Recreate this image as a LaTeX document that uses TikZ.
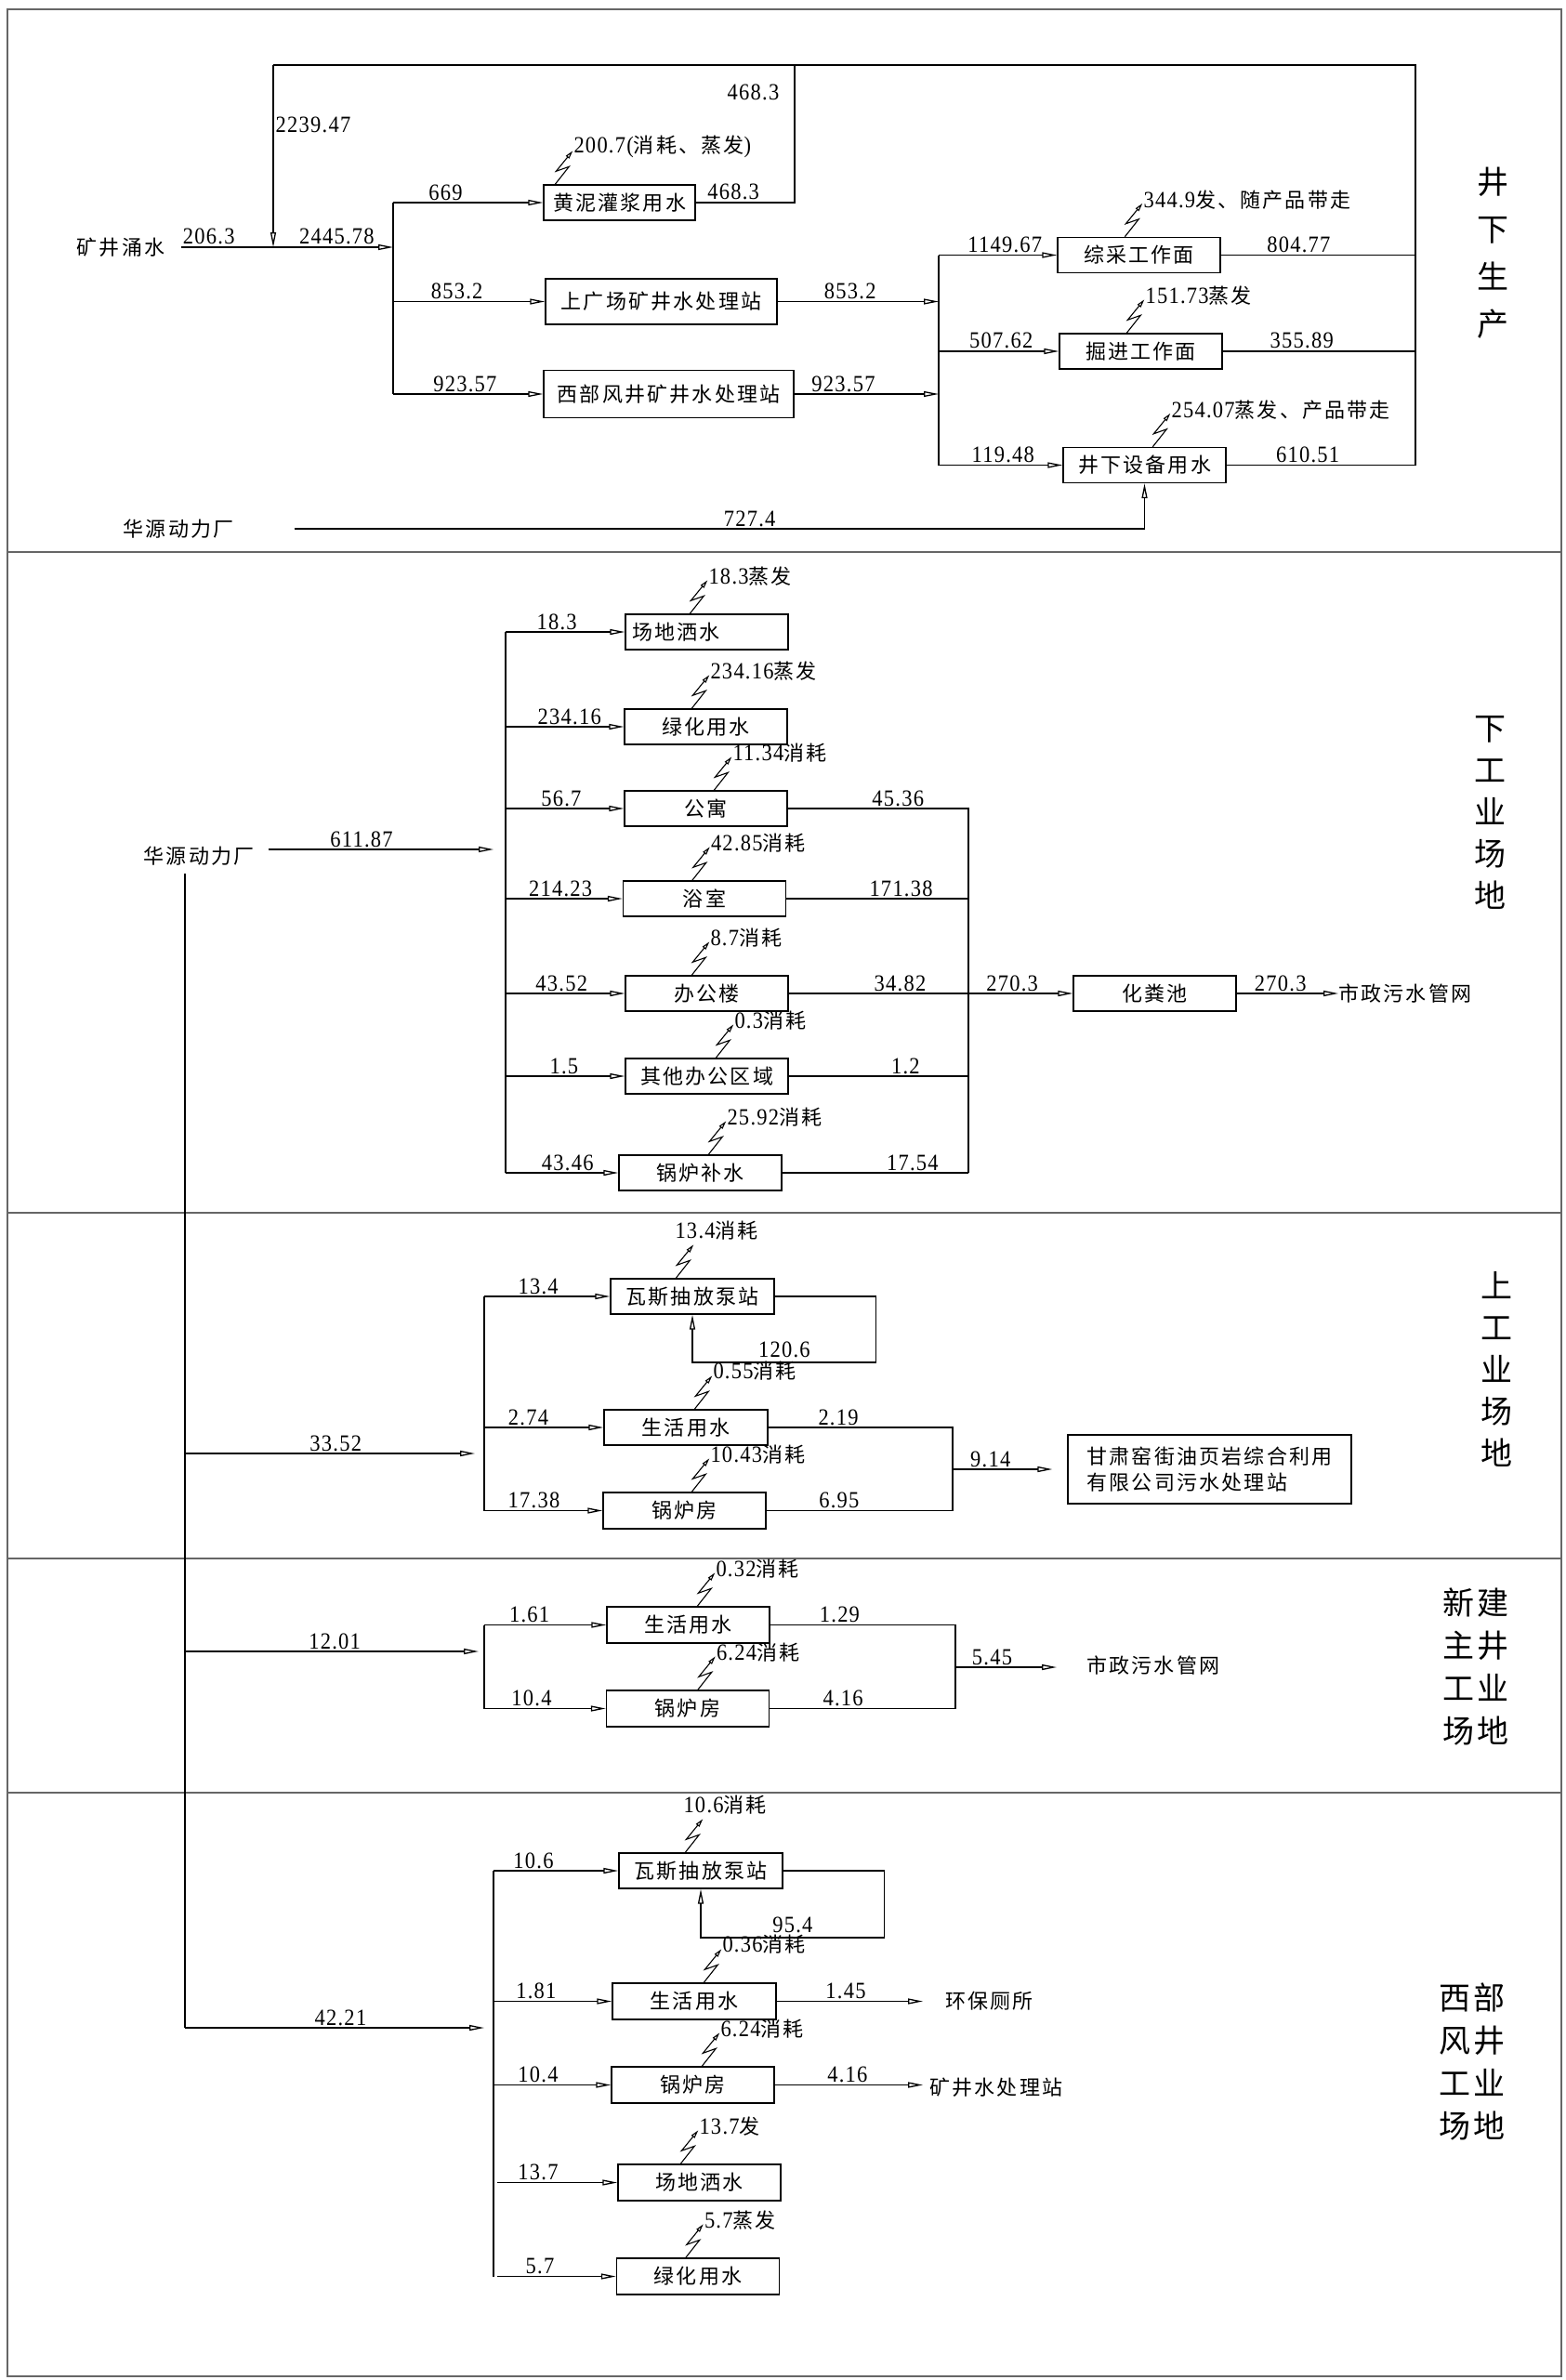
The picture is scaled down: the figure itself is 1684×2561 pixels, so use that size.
\documentclass[tikz,border=0pt]{standalone}
\usepackage{fontspec}
\setmainfont{Liberation Serif}
\newfontfamily\cjk[LetterSpace=10]{Noto Sans CJK SC}
\newfontfamily\cjkt{Noto Sans CJK SC}
\newfontfamily\numfam[FakeStretch=0.9, LetterSpace=5]{Liberation Serif}
\newcommand\zh{\cjk\fontsize{22}{28}\selectfont}
\newcommand\numf{\numfam\fontsize{25}{27}\selectfont}
\usepackage{tikz}
\usetikzlibrary{arrows.meta, positioning}

\tikzset{
  spark/.pic={\draw[line width=1.1pt, -{Triangle[open, length=9pt, width=4.5pt]}]
    (0,0) -- (15,-19) -- (1,-14) -- (19,-36) coordinate (-tip);}
}

\begin{document}
\begin{tikzpicture}[
  x=1pt, y=-1pt,
  box/.style={draw, line width=1.4pt, minimum width=175pt, minimum height=38pt,
              inner sep=3pt, font=\zh, align=center},
  plain/.style={inner sep=1pt, font=\zh},
  num/.style={above, inner sep=2pt, font=\numf},
  loss/.style={anchor=west, yshift=4pt, inner sep=1pt, font=\numf},
  pipe/.style={line width=1.3pt},
  flow/.style={pipe, -{Triangle[open, length=16pt, width=6pt]}},
  frame/.style={line width=2pt, black!60},
  title/.style={align=center, inner sep=0pt}
]
  \useasboundingbox (0,0) rectangle (1684,2561);

  % frame and section lines
  \draw[frame] (8,10) rectangle (1680,2557);
  \draw[frame] (8,594) -- (1680,594);
  \draw[frame] (8,1305) -- (1680,1305);
  \draw[frame] (8,1677) -- (1680,1677);
  \draw[frame] (8,1929) -- (1680,1929);

  % ---------------- underground production
  \node[plain] (kj) at (130,266) {矿井涌水};
  \coordinate (J1) at (294,266);
  \coordinate (D1) at (423,266);
  \coordinate (D2) at (1010,324.5);
  \coordinate (T1) at (294,70);
  \coordinate (T2) at (855,70);
  \coordinate (T3) at (1523,70);
  \coordinate (R) at (1523,502);

  \node[box, minimum width=163pt] (hn) at (666.5,218) {黄泥灌浆用水};
  \node[box, minimum width=249pt, minimum height=49pt] (sg) at (711.5,324.5) {上广场矿井水处理站};
  \node[box, minimum width=269pt, minimum height=51pt] (xb) at (719.5,424) {西部风井矿井水处理站};

  \node[box] (zc) at (1225.5,274.5) {综采工作面};
  \node[box] (jj) at (1227.5,378) {掘进工作面};
  \node[box] (sb) at (1231.5,500.5) {井下设备用水};

  \node[plain] (hy1) at (192,569) {华源动力厂};

  \node[title, font=\cjkt\fontsize{34}{51}\selectfont] (t1) at (1606,272) {井\\下\\生\\产};

  % inflow
  \draw[pipe, shorten <=16pt] (kj.east) -- node[num, pos=.4] {206.3} (J1);
  \draw[flow] (J1) -- node[num, pos=.53] {2445.78} (D1);

  % split to three users
  \draw[pipe] (hn.west -| D1) -- (xb.west -| D1);
  \draw[flow] (hn.west -| D1) -- node[num, pos=.35] {669} (hn.west);
  \draw[flow] (sg.west -| D1) -- node[num, pos=.42] {853.2} (sg.west);
  \draw[flow] (xb.west -| D1) -- node[num, pos=.48] {923.57} (xb.west);

  % treated water to faces
  \draw[flow] (sg.east) -- node[num, pos=.45] {853.2} (sg.east -| D2);
  \draw[flow] (xb.east) -- node[num, pos=.34] {923.57} (xb.east -| D2);
  \draw[pipe] (zc.west -| D2) -- (sb.west -| D2);
  \draw[flow] (zc.west -| D2) -- node[num, pos=.56] {1149.67} (zc.west);
  \draw[flow] (jj.west -| D2) -- node[num, pos=.52] {507.62} (jj.west);
  \draw[flow] (sb.west -| D2) -- node[num, pos=.52] {119.48} (sb.west);

  % return loop
  \draw[pipe] (zc.east) -- node[num, pos=.4] {804.77} (zc.east -| R);
  \draw[pipe] (jj.east) -- node[num, pos=.41] {355.89} (jj.east -| R);
  \draw[pipe] (sb.east) -- node[num, pos=.43] {610.51} (sb.east -| R) -- (T3) -- (T1);
  \draw[pipe] (hn.east) -- node[num, pos=.38] {468.3} (hn.east -| T2)
    -- node[num, left=14pt, pos=.8] {468.3} (T2);
  \draw[flow] (T1) -- node[num, right, pos=.33] {2239.47} (J1);

  % power plant supply
  \draw[flow, shorten <=64pt] (hy1.east) -| node[num, pos=.283] {727.4} (sb.south);

  % losses
  \pic (hnS) at ([xshift=13pt]hn.north west) {spark};
  \node[loss] at (hnS-tip) {200.7(\zh 消耗、蒸发\numf)};
  \pic (zcS) at ([xshift=73pt]zc.north west) {spark};
  \node[loss] at (zcS-tip) {344.9\zh 发、随产品带走};
  \pic (jjS) at ([xshift=73pt]jj.north west) {spark};
  \node[loss] at (jjS-tip) {151.73\zh 蒸发};
  \pic (sbS) at ([xshift=97pt]sb.north west) {spark};
  \node[loss] at (sbS-tip) {254.07\zh 蒸发、产品带走};

  % ---------------- lower industrial site
  \node[plain] (hy2) at (214,921) {华源动力厂};
  \coordinate (L0) at (199,940);
  \coordinate (D3) at (544,914);
  \coordinate (C2) at (1042,1069);

  \node[box, align=left, text width=161pt, inner xsep=7pt] (cd2) at (760.5,680) {场地洒水};
  \node[box] (lh2) at (759.5,782) {绿化用水};
  \node[box] (gy2) at (759.5,870) {公寓};
  \node[box] (ys2) at (758,967) {浴室};
  \node[box] (bg2) at (760.5,1069) {办公楼};
  \node[box] (qt2) at (760.5,1158) {其他办公区域};
  \node[box] (gl2) at (753.5,1262) {锅炉补水};
  \node[box] (hfc) at (1242.5,1069) {化粪池};
  \node[plain, anchor=west, inner sep=0pt] (sz1) at (1440,1069) {市政污水管网};

  \node[title, font=\cjkt\fontsize{34}{45}\selectfont] (t2) at (1603,874) {下\\工\\业\\场\\地};

  \draw[flow, shorten <=14pt, shorten >=13pt] (hy2.east |- D3) -- node[num, pos=.425] {611.87} (D3);
  \draw[pipe] (cd2.west -| D3) -- (gl2.west -| D3);
  \draw[flow] (cd2.west -| D3) -- node[num, pos=.43] {18.3} (cd2.west);
  \draw[flow] (lh2.west -| D3) -- node[num, pos=.54] {234.16} (lh2.west);
  \draw[flow] (gy2.west -| D3) -- node[num, pos=.47] {56.7} (gy2.west);
  \draw[flow] (ys2.west -| D3) -- node[num, pos=.47] {214.23} (ys2.west);
  \draw[flow] (bg2.west -| D3) -- node[num, pos=.47] {43.52} (bg2.west);
  \draw[flow] (qt2.west -| D3) -- node[num, pos=.49] {1.5} (qt2.west);
  \draw[flow] (gl2.west -| D3) -- node[num, pos=.55] {43.46} (gl2.west);

  \draw[pipe] (gy2.east) -- node[num, pos=.61] {45.36} (gy2.east -| C2) -- (gl2.east -| C2);
  \draw[pipe] (ys2.east) -- node[num, pos=.63] {171.38} (ys2.east -| C2);
  \draw[pipe] (bg2.east) -- node[num, pos=.62] {34.82} (C2);
  \draw[pipe] (qt2.east) -- node[num, pos=.65] {1.2} (qt2.east -| C2);
  \draw[pipe] (gl2.east) -- node[num, pos=.7] {17.54} (gl2.east -| C2);
  \draw[flow] (C2) -- node[num, pos=.42] {270.3} (hfc.west);
  \draw[flow] (hfc.east) -- node[num, pos=.43] {270.3} (sz1.west);

  \pic (cd2S) at ([xshift=70pt]cd2.north west) {spark};
  \node[loss] at (cd2S-tip) {18.3\zh 蒸发};
  \pic (lh2S) at ([xshift=73pt]lh2.north west) {spark};
  \node[loss] at (lh2S-tip) {234.16\zh 蒸发};
  \pic (gy2S) at ([xshift=97pt]gy2.north west) {spark};
  \node[loss] at (gy2S-tip) {11.34\zh 消耗};
  \pic (ys2S) at ([xshift=75pt]ys2.north west) {spark};
  \node[loss] at (ys2S-tip) {42.85\zh 消耗};
  \pic (bg2S) at ([xshift=72pt]bg2.north west) {spark};
  \node[loss] at (bg2S-tip) {8.7\zh 消耗};
  \pic (qt2S) at ([xshift=98pt]qt2.north west) {spark};
  \node[loss] at (qt2S-tip) {0.3\zh 消耗};
  \pic (gl2S) at ([xshift=97pt]gl2.north west) {spark};
  \node[loss] at (gl2S-tip) {25.92\zh 消耗};

  % ---------------- upper industrial site
  \coordinate (L3) at (199,1564);
  \coordinate (D4) at (521,1564);
  \coordinate (C4) at (1025,1581);

  \node[box, minimum width=176pt] (wsA) at (745,1395) {瓦斯抽放泵站};
  \node[box, minimum width=176pt] (shA) at (738,1536) {生活用水};
  \node[box, minimum height=39pt] (glA) at (736.5,1625.5) {锅炉房};
  \node[box, minimum width=305pt, minimum height=74pt, align=left, font=\cjk\fontsize{22}{28}\selectfont]
    (gs) at (1301.5,1581) {甘肃窑街油页岩综合利用\\有限公司污水处理站};

  \node[title, font=\cjkt\fontsize{34}{45}\selectfont] (t3) at (1610,1473) {上\\工\\业\\场\\地};

  \draw[flow] (L3) -- node[num, pos=.52] {33.52} ([xshift=-10pt]D4);
  \draw[pipe] (wsA.west -| D4) -- (glA.west -| D4);
  \draw[flow] (wsA.west -| D4) -- node[num, pos=.43] {13.4} (wsA.west);
  \draw[flow] (shA.west -| D4) -- node[num, pos=.37] {2.74} (shA.west);
  \draw[flow] (glA.west -| D4) -- node[num, pos=.42] {17.38} (glA.west);
  \draw[flow] (wsA.east) -- ++(109,0) -- ++(0,71) -| node[num, pos=.25, yshift=3pt] {120.6} (wsA.south);

  \draw[pipe] (shA.east) -- node[num, pos=.38] {2.19} (shA.east -| C4) -- (glA.east -| C4);
  \draw[pipe] (glA.east) -- node[num, pos=.39] {6.95} (glA.east -| C4);
  \draw[flow] (C4) -- node[num, pos=.38] {9.14} ([xshift=-16pt]gs.west);

  \pic (wsAS) at ([xshift=71pt]wsA.north west) {spark};
  \node[loss, anchor=south west, xshift=-21pt, yshift=0pt] at (wsAS-tip) {13.4\zh 消耗};
  \pic (shAS) at ([xshift=98pt]shA.north west) {spark};
  \node[loss, yshift=1pt] at (shAS-tip) {0.55\zh 消耗};
  \pic (glAS) at ([xshift=96pt]glA.north west) {spark};
  \node[loss] at (glAS-tip) {10.43\zh 消耗};

  % ---------------- new main shaft site
  \coordinate (L4) at (199,1777);
  \coordinate (D5) at (521,1777);
  \coordinate (C5) at (1028,1794);

  \node[box, minimum height=39pt] (shB) at (740.5,1748.5) {生活用水};
  \node[box, minimum height=39pt] (glB) at (740,1838.5) {锅炉房};
  \node[plain, anchor=west, inner sep=0pt] (sz2) at (1169,1792) {市政污水管网};

  \node[title, font=\cjkt\fontsize{34}{46}\selectfont] (t4) at (1587.5,1793)
    {新\hspace{3pt}建\\主\hspace{3pt}井\\工\hspace{3pt}业\\场\hspace{3pt}地};

  \draw[flow] (L4) -- node[num, pos=.51] {12.01} ([xshift=-6pt]D5);
  \draw[pipe] (shB.west -| D5) -- (glB.west -| D5);
  \draw[flow] (shB.west -| D5) -- node[num, pos=.37] {1.61} (shB.west);
  \draw[flow] (glB.west -| D5) -- node[num, pos=.39] {10.4} (glB.west);
  \draw[pipe] (shB.east) -- node[num, pos=.375] {1.29} (shB.east -| C5) -- (glB.east -| C5);
  \draw[pipe] (glB.east) -- node[num, pos=.395] {4.16} (glB.east -| C5);
  \draw[flow, shorten >=32pt] (C5) -- node[num, pos=.28] {5.45} (C5 -| sz2.west);

  \pic (shBS) at ([xshift=98pt]shB.north west) {spark};
  \node[loss] at (shBS-tip) {0.32\zh 消耗};
  \pic (glBS) at ([xshift=99pt]glB.north west) {spark};
  \node[loss] at (glBS-tip) {6.24\zh 消耗};

  % ---------------- west air shaft site
  \coordinate (L5) at (199,2182);
  \coordinate (D6) at (531,2182);

  \node[box, minimum width=176pt] (wsB) at (754,2013) {瓦斯抽放泵站};
  \node[box, minimum width=176pt, minimum height=39pt] (shC) at (747,2153.5) {生活用水};
  \node[box, minimum height=39pt] (glC) at (745.5,2243.5) {锅炉房};
  \node[box, minimum height=39pt] (cdC) at (752.5,2348.5) {场地洒水};
  \node[box, minimum height=39pt] (lhC) at (751,2449.5) {绿化用水};
  \node[plain, anchor=west, inner sep=0pt] (hb) at (1017,2153.5) {环保厕所};
  \node[plain, anchor=west, inner sep=0pt] (kjs) at (1000,2246) {矿井水处理站};

  \node[title, font=\cjkt\fontsize{34}{46}\selectfont] (t5) at (1583.5,2218)
    {西\hspace{3pt}部\\风\hspace{3pt}井\\工\hspace{3pt}业\\场\hspace{3pt}地};

  \draw[pipe] (L0) -- (L5);
  \draw[flow] (L5) -- node[num, pos=.52] {42.21} ([xshift=-10pt]D6);
  \draw[pipe] (wsB.west -| D6) -- (lhC.west -| D6);
  \draw[flow] (wsB.west -| D6) -- node[num, pos=.32] {10.6} (wsB.west);
  \draw[flow] (shC.west -| D6) -- node[num, pos=.36] {1.81} (shC.west);
  \draw[flow] (glC.west -| D6) -- node[num, pos=.38] {10.4} (glC.west);
  \draw[flow] ([xshift=4pt]cdC.west -| D6) -- node[num, pos=.34] {13.7} (cdC.west);
  \draw[flow] ([xshift=4pt]lhC.west -| D6) -- node[num, pos=.36] {5.7} (lhC.west);
  \draw[flow] (wsB.east) -- ++(109,0) -- ++(0,72) -| node[num, pos=.25, yshift=3pt] {95.4} (wsB.south);

  \draw[flow, shorten >=24pt] (shC.east) -- node[num, pos=.41] {1.45} (shC.east -| hb.west);
  \draw[flow, shorten >=7pt] (glC.east) -- node[num, pos=.47] {4.16} (glC.east -| kjs.west);

  \pic (wsBS) at ([xshift=72pt]wsB.north west) {spark};
  \node[loss, anchor=south west, xshift=-22pt, yshift=0pt] at (wsBS-tip) {10.6\zh 消耗};
  \pic (shCS) at ([xshift=99pt]shC.north west) {spark};
  \node[loss, yshift=1pt] at (shCS-tip) {0.36\zh 消耗};
  \pic (glCS) at ([xshift=98pt]glC.north west) {spark};
  \node[loss] at (glCS-tip) {6.24\zh 消耗};
  \pic (cdCS) at ([xshift=68pt]cdC.north west) {spark};
  \node[loss] at (cdCS-tip) {13.7\zh 发};
  \pic (lhCS) at ([xshift=75pt]lhC.north west) {spark};
  \node[loss] at (lhCS-tip) {5.7\zh 蒸发};
\end{tikzpicture}
\end{document}
